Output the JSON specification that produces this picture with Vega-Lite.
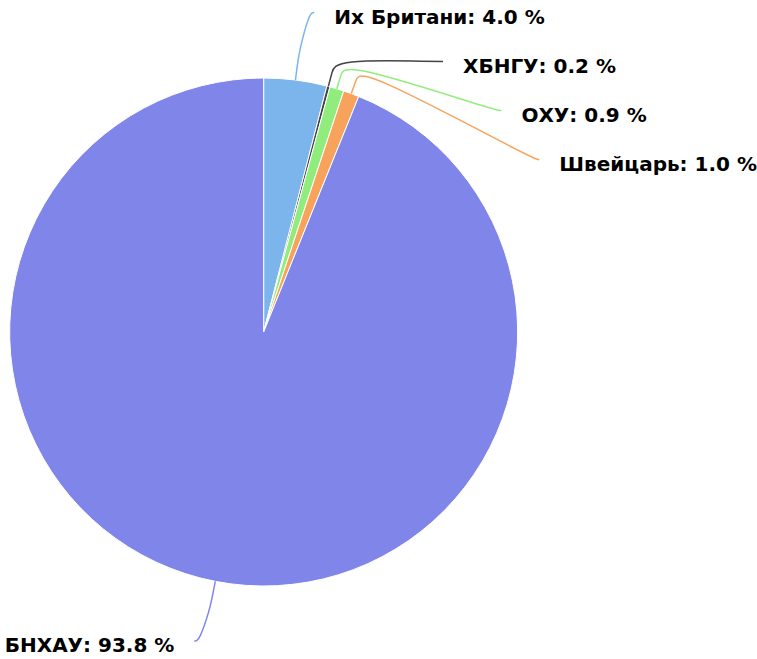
{
  "$schema": "https://vega.github.io/schema/vega-lite/v6.json",
  "width": 757,
  "height": 659,
  "autosize": {"type": "fit", "contains": "padding"},
  "padding": 0,
  "background": "white",
  "config": {"view": {"stroke": null}},
  "data": {
    "values": [
      {"name": "Их Британи", "value": 4.0},
      {"name": "ХБНГУ", "value": 0.2},
      {"name": "ОХУ", "value": 0.9},
      {"name": "Швейцарь", "value": 1.0},
      {"name": "БНХАУ", "value": 93.8}
    ]
  },
  "transform": [
    {"window": [{"op": "sum", "field": "value", "as": "cum"}], "frame": [null, 0]},
    {"joinaggregate": [{"op": "sum", "field": "value", "as": "total"}]},
    {"calculate": "2*PI*(datum.cum-datum.value)/datum.total", "as": "a0"},
    {"calculate": "2*PI*datum.cum/datum.total", "as": "a1"},
    {"calculate": "(datum.a0+datum.a1)/2", "as": "am"},
    {"calculate": "sin(datum.am)>=0?1:-1", "as": "s"},
    {"calculate": "datum.s*322*cos(datum.am)", "as": "nys"},
    {"window": [{"op": "row_number", "as": "rk"}], "groupby": ["s"], "sort": [{"field": "am", "order": "ascending"}]},
    {"calculate": "datum.nys+49*datum.rk", "as": "key"},
    {"window": [{"op": "min", "field": "key", "as": "cm"}], "groupby": ["s"], "sort": [{"field": "am", "order": "ascending"}], "frame": [null, 0]},
    {"calculate": "datum.s*(datum.cm-49*datum.rk)", "as": "yd"},
    {"calculate": "datum.s*(sqrt(max(0,323*323-datum.yd*datum.yd))+3)", "as": "ex"},
    {"calculate": "max(datum.yd,-309)", "as": "ey"},
    {"calculate": "datum.ex+datum.s*20", "as": "tx"},
    {"calculate": "datum.ey-5", "as": "ty"},
    {"calculate": "datum.name+': '+format(datum.value,'.1f')+' %'", "as": "label"}
  ],
  "encoding": {
    "color": {
      "field": "name",
      "type": "nominal",
      "scale": {
        "domain": ["Их Британи", "ХБНГУ", "ОХУ", "Швейцарь", "БНХАУ"],
        "range": ["#7cb5ec", "#434348", "#90ed7d", "#f7a35c", "#8085e9"]
      },
      "legend": null
    }
  },
  "layer": [
    {
      "mark": {"type": "arc", "radius": 254, "stroke": "white", "strokeWidth": 1},
      "encoding": {
        "x": {"datum": 0, "type": "quantitative", "scale": {"domain": [-264, 493], "nice": false, "zero": false}, "axis": null},
        "y": {"datum": 0, "type": "quantitative", "scale": {"domain": [-327, 332], "nice": false, "zero": false}, "axis": null},
        "theta": {"field": "a0", "type": "quantitative", "scale": null},
        "theta2": {"field": "a1"}
      }
    },
    {
      "transform": [
        {"calculate": "[0,1,2,3,4]", "as": "k"},
        {"flatten": ["k"]},
        {"calculate": "datum.k==0?254*sin(datum.am):datum.k==1?268*sin(datum.am):datum.k==2?282*sin(datum.am):datum.k==3?datum.ex-datum.s*5:datum.ex", "as": "cx"},
        {"calculate": "datum.k==0?254*cos(datum.am):datum.k==1?268*cos(datum.am):datum.k==2?282*cos(datum.am):datum.ey", "as": "cy"}
      ],
      "mark": {"type": "line", "interpolate": "basis", "strokeWidth": 1.5},
      "encoding": {
        "x": {"field": "cx", "type": "quantitative"},
        "y": {"field": "cy", "type": "quantitative"},
        "detail": {"field": "name"},
        "order": {"field": "k", "type": "quantitative"}
      }
    },
    {
      "transform": [{"filter": "datum.s>0"}],
      "mark": {"type": "text", "align": "left", "baseline": "middle", "font": "DejaVu Sans", "fontWeight": "bold", "fontSize": 20},
      "encoding": {
        "x": {"field": "tx", "type": "quantitative"},
        "y": {"field": "ty", "type": "quantitative"},
        "text": {"field": "label"},
        "color": {"value": "black"}
      }
    },
    {
      "transform": [{"filter": "datum.s<0"}],
      "mark": {"type": "text", "align": "right", "baseline": "middle", "font": "DejaVu Sans", "fontWeight": "bold", "fontSize": 20},
      "encoding": {
        "x": {"field": "tx", "type": "quantitative"},
        "y": {"field": "ty", "type": "quantitative"},
        "text": {"field": "label"},
        "color": {"value": "black"}
      }
    }
  ]
}
